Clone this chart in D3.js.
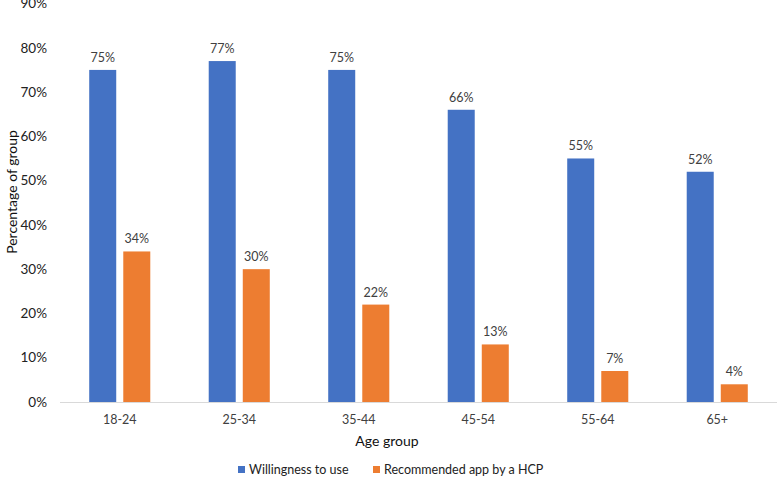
<!DOCTYPE html>
<html><head><meta charset="utf-8">
<script src="https://cdn.jsdelivr.net/npm/d3@7"></script>
<style>body{margin:0;background:#fff}svg{display:block}</style>
</head><body>
<svg id="c" width="778" height="489"></svg>
<script>
const categories = ["18-24","25-34","35-44","45-54","55-64","65+"];
const willingness = [75,77,75,66,55,52];
const recommended = [34,30,22,13,7,4];
const seriesNames = ["Willingness to use","Recommended app by a HCP"];
const colors = ["#4472C4","#ED7D31"];
const yTicks = [0,10,20,30,40,50,60,70,80,90];

(function(){
const svg = d3.select("#c");
const font = "Lato, 'Open Sans', sans-serif";
const pLeft = 60, pRight = 777, pTop = 3.5, pBottom = 402;
const x = d3.scaleBand().domain(categories).range([pLeft, pRight]).padding(0);
const y = d3.scaleLinear().domain([0,90]).range([pBottom, pTop]);
const bw = x.bandwidth()*0.226, gap = x.bandwidth()*0.059;

svg.append("g").selectAll("text").data(yTicks).join("text")
  .attr("x", 47).attr("y", d=>y(d)).attr("dy","0.35em")
  .attr("text-anchor","end").attr("font-family",font).attr("font-size",13.5).attr("fill","#222")
  .text(d=>d+"%");

svg.append("line").attr("x1",pLeft).attr("x2",pRight).attr("y1",pBottom+0.5).attr("y2",pBottom+0.5)
  .attr("stroke","#d9d9d9").attr("stroke-width",1);

const data = [willingness, recommended];
data.forEach((vals, si) => {
  const g = svg.append("g");
  const xp = (c) => x(c) + x.bandwidth()/2 - bw - gap/2 + si*(bw+gap);
  g.selectAll("rect").data(categories).join("rect")
    .attr("x", c=>xp(c)).attr("width", bw)
    .attr("y", (c,i)=>y(vals[i])).attr("height",(c,i)=>pBottom-y(vals[i]))
    .attr("fill", colors[si]);
  g.selectAll("text").data(categories).join("text")
    .attr("x", c=>xp(c)+bw/2).attr("y",(c,i)=>y(vals[i])-8)
    .attr("text-anchor","middle").attr("font-family",font).attr("font-size",12.5).attr("fill","#404040")
    .text((c,i)=>vals[i]+"%");
});

svg.append("g").selectAll("text").data(categories).join("text")
  .attr("x", c=>x(c)+x.bandwidth()/2).attr("y",420).attr("dy","0.35em")
  .attr("text-anchor","middle").attr("font-family",font).attr("font-size",12.5).attr("fill","#404040")
  .text(d=>d);

svg.append("text").attr("x",387).attr("y",441).attr("dy","0.35em").attr("text-anchor","middle")
  .attr("font-family",font).attr("font-size",14).attr("fill","#111").text("Age group");
svg.append("text").attr("transform","translate(12,192) rotate(-90)").attr("dy","0.35em").attr("text-anchor","middle")
  .attr("font-family",font).attr("font-size",14).attr("fill","#111").text("Percentage of group");

const legX = [238, 373];
seriesNames.forEach((n,i)=>{
  svg.append("rect").attr("x",legX[i]).attr("y",466).attr("width",7).attr("height",7).attr("fill",colors[i]);
  svg.append("text").attr("x",legX[i]+11).attr("y",470).attr("dy","0.35em")
    .attr("font-family",font).attr("font-size",12.5).attr("fill","#222").text(n);
});
})();
</script>
</body></html>
